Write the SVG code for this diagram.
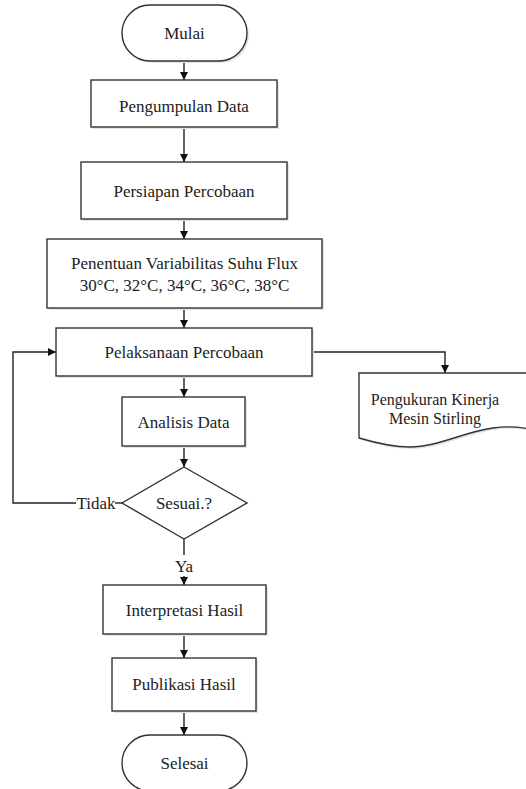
<svg xmlns="http://www.w3.org/2000/svg" width="526" height="789" viewBox="0 0 526 789">
<style>
.s{fill:#fff;stroke:#333;stroke-width:1.4}
.sh{fill:#e4e4e4;stroke:none}
.t{font-family:"Liberation Serif","Times New Roman",serif;font-size:17px;fill:#222;text-anchor:middle}
.sm{font-size:16px}
.c{fill:none;stroke:#222;stroke-width:1.4}
</style>
<defs>
<marker id="a" viewBox="0 0 10 10" refX="10" refY="5" markerWidth="8" markerHeight="8" markerUnits="userSpaceOnUse" orient="auto">
<path d="M0,0 L10,5 L0,10 z" fill="#111"/>
</marker>
</defs>
<rect width="526" height="789" fill="#fff"/>
<g id="connectors">
<line class="c" x1="184" y1="61" x2="184" y2="80" marker-end="url(#a)"/>
<line class="c" x1="184" y1="127" x2="184" y2="162" marker-end="url(#a)"/>
<line class="c" x1="184" y1="219" x2="184" y2="239" marker-end="url(#a)"/>
<line class="c" x1="184" y1="308" x2="184" y2="328" marker-end="url(#a)"/>
<line class="c" x1="184" y1="376" x2="184" y2="397" marker-end="url(#a)"/>
<line class="c" x1="184" y1="446" x2="184" y2="467" marker-end="url(#a)"/>
<line class="c" x1="184" y1="539" x2="184" y2="555"/>
<line class="c" x1="184" y1="576" x2="184" y2="585" marker-end="url(#a)"/>
<line class="c" x1="184" y1="634" x2="184" y2="658" marker-end="url(#a)"/>
<line class="c" x1="184" y1="711" x2="184" y2="735" marker-end="url(#a)"/>
<polyline class="c" points="76,503 13,503 13,352 56,352" marker-end="url(#a)"/>
<line class="c" x1="115" y1="503" x2="122" y2="503"/>
<polyline class="c" points="312,352 445,352 445,373" marker-end="url(#a)"/>
<text class="t" x="96" y="509">Tidak</text>
<text class="t" x="184" y="572">Ya</text>
</g>
<g id="mulai">
<rect class="sh" x="124" y="7" width="125" height="56" rx="28"/>
<rect class="s" x="122" y="5" width="125" height="56" rx="28"/>
<text class="t" x="184.5" y="39">Mulai</text>
</g>
<g id="pengumpulan">
<rect class="sh" x="93" y="82" width="186" height="47"/>
<rect class="s" x="91" y="80" width="186" height="47"/>
<text class="t" x="184" y="112">Pengumpulan Data</text>
</g>
<g id="persiapan">
<rect class="sh" x="83" y="164" width="206" height="57"/>
<rect class="s" x="81" y="162" width="206" height="57"/>
<text class="t" x="184" y="197">Persiapan Percobaan</text>
</g>
<g id="penentuan">
<rect class="sh" x="49" y="241" width="275" height="69"/>
<rect class="s" x="47" y="239" width="275" height="69"/>
<text class="t" x="184.5" y="269">Penentuan Variabilitas Suhu Flux</text>
<text class="t" x="184.5" y="291">30°C, 32°C, 34°C, 36°C, 38°C</text>
</g>
<g id="pelaksanaan">
<rect class="sh" x="58" y="330" width="256" height="48"/>
<rect class="s" x="56" y="328" width="256" height="48"/>
<text class="t" x="184" y="358">Pelaksanaan Percobaan</text>
</g>
<g id="analisis">
<rect class="sh" x="124" y="399" width="123" height="49"/>
<rect class="s" x="122" y="397" width="123" height="49"/>
<text class="t" x="183.5" y="428">Analisis Data</text>
</g>
<g id="pengukuran">
<path class="sh" d="M361,375 H548 V435 C525,428 508,428 495,430 C465,434 440,449 412,449 C395,449 378,445 361,440 Z"/>
<path class="s" d="M359,373 H546 V433 C523,426 506,426 493,428 C463,432 438,447 410,447 C393,447 376,443 359,438 Z"/>
<text class="t sm" x="435" y="405">Pengukuran Kinerja</text>
<text class="t sm" x="435" y="424">Mesin Stirling</text>
</g>
<g id="sesuai">
<polygon class="s" points="184,467 247,503 184,539 122,503"/>
<text class="t" x="184" y="509">Sesuai.?</text>
</g>
<g id="interpretasi">
<rect class="sh" x="105" y="587" width="163" height="49"/>
<rect class="s" x="103" y="585" width="163" height="49"/>
<text class="t" x="184.5" y="616">Interpretasi Hasil</text>
</g>
<g id="publikasi">
<rect class="sh" x="114" y="660" width="144" height="53"/>
<rect class="s" x="112" y="658" width="144" height="53"/>
<text class="t" x="184" y="690">Publikasi Hasil</text>
</g>
<g id="selesai">
<rect class="s" x="122" y="735" width="125" height="56" rx="28"/>
<text class="t" x="184.5" y="769">Selesai</text>
</g>
</svg>
